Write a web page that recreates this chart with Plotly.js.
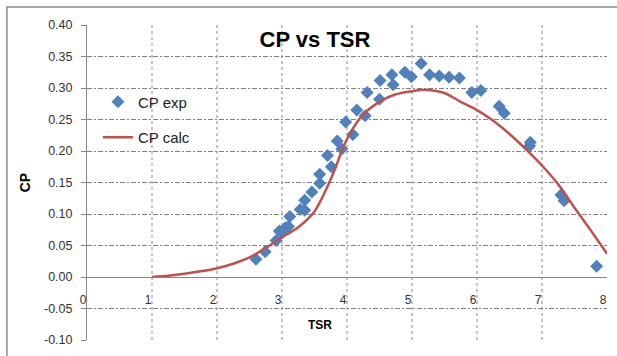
<!DOCTYPE html>
<html>
<head>
<meta charset="utf-8">
<script src="https://cdn.plot.ly/plotly-3.0.1.min.js"></script>
<style>html,body{margin:0;padding:0;background:#fff;}#chart{width:617px;height:356px;}</style>
</head>
<body>
<div id="chart"></div>
<script>
const expTSR = [2.60, 2.74, 2.91, 2.96, 3.00, 3.05, 3.10, 3.12, 3.28, 3.35, 3.35, 3.46, 3.58, 3.58, 3.76, 3.70, 3.85, 3.92, 4.09, 3.98, 4.15, 4.28, 4.31, 4.50, 4.51, 4.69, 4.71, 4.89, 4.99, 5.14, 5.27, 5.42, 5.57, 5.73, 5.92, 6.06, 6.34, 6.42, 6.81, 6.82, 7.29, 7.34, 7.84];
const expCP  = [0.028, 0.040, 0.058, 0.073, 0.070, 0.078, 0.080, 0.096, 0.107, 0.106, 0.122, 0.135, 0.149, 0.163, 0.175, 0.193, 0.216, 0.203, 0.226, 0.246, 0.265, 0.256, 0.293, 0.282, 0.312, 0.321, 0.305, 0.325, 0.318, 0.339, 0.321, 0.319, 0.317, 0.316, 0.293, 0.296, 0.271, 0.260, 0.208, 0.214, 0.130, 0.121, 0.017];

// Calculated CP curve
const calcTSR = [1, 1.25, 1.5, 1.75, 2, 2.25, 2.5, 2.75, 3, 3.25, 3.5, 3.75, 4, 4.25, 4.5, 4.75, 5, 5.25, 5.5, 5.75, 6, 6.25, 6.5, 6.75, 7, 7.25, 7.5, 7.75, 8];
const calcCP  = [0, 0.002, 0.005, 0.009, 0.014, 0.021, 0.031, 0.046, 0.063, 0.079, 0.104, 0.155, 0.219, 0.258, 0.278, 0.290, 0.295, 0.297, 0.292, 0.278, 0.265, 0.248, 0.227, 0.203, 0.177, 0.147, 0.110, 0.074, 0.037];

const xTicks = [0, 1, 2, 3, 4, 5, 6, 7, 8];
const yTicks = [-0.10, -0.05, 0.00, 0.05, 0.10, 0.15, 0.20, 0.25, 0.30, 0.35, 0.40];

const traces = [
  {
    x: expTSR, y: expCP, name: 'CP exp', type: 'scatter', mode: 'markers',
    legendgroup: 'a',
    marker: {symbol: 'diamond', size: 10, color: '#4F81BD'}
  },
  {
    x: calcTSR, y: calcCP, name: 'CP calc', type: 'scatter', mode: 'lines',
    legendgroup: 'b',
    line: {color: '#C0504D', width: 2.5, shape: 'spline', smoothing: 0.8}
  }
];

const layout = {
  width: 617, height: 356,
  margin: {l: 87, r: 10, t: 25, b: 16},
  paper_bgcolor: '#fff', plot_bgcolor: '#fff',
  font: {family: 'Liberation Sans, Arial, sans-serif', color: '#222', size: 12},
  title: {
    text: '<b>CP vs TSR</b>',
    font: {family: 'Liberation Sans, Arial, sans-serif', size: 22, color: '#000'},
    xref: 'container', x: 0.5105, xanchor: 'center',
    yref: 'container', y: 0.89, yanchor: 'middle'
  },
  showlegend: true,
  legend: {
    x: 0.021, xanchor: 'left', y: 0.808, yanchor: 'top',
    bgcolor: 'rgba(255,255,255,0)',
    font: {family: 'Liberation Sans, Arial, sans-serif', size: 15, color: '#222'},
    traceorder: 'grouped', tracegroupgap: 13
  },
  xaxis: {
    range: [0, 8],
    tickmode: 'array', tickvals: xTicks, ticktext: xTicks.map(String),
    anchor: 'free', position: 0.2,
    showline: true, linecolor: '#868686', linewidth: 1,
    ticks: '', ticklabelstandoff: 12, ticklabelshift: -4,
    tickfont: {size: 12, color: '#333'},
    showgrid: true, gridcolor: '#c4c4c4', gridwidth: 1.5, griddash: '3px,3px',
    zeroline: false
  },
  yaxis: {
    range: [-0.10, 0.40],
    tickmode: 'array', tickvals: yTicks, ticktext: yTicks.map(v => v.toFixed(2)),
    showline: true, linecolor: '#868686', linewidth: 1,
    ticks: 'outside', ticklen: 5, tickcolor: '#868686', ticklabelstandoff: 6,
    tickfont: {size: 12.5, color: '#333'},
    showgrid: true, gridcolor: '#808080', gridwidth: 1, griddash: '5px,2px,2px,2px',
    zeroline: false,
    title: {text: '<b>CP</b>', font: {size: 14, color: '#000'}, standoff: 10}
  },
  annotations: [
    {text: '<b>TSR</b>', xref: 'paper', yref: 'paper', x: 0.448, y: 0.048,
     xanchor: 'center', yanchor: 'middle', showarrow: false,
     font: {size: 12, color: '#000'}}
  ],
  shapes: [
    {type: 'rect', xref: 'paper', yref: 'paper', x0: -0.154, x1: 1.2, y0: -0.3, y1: 1.057,
     line: {color: '#8a8a8a', width: 1.5}, fillcolor: 'rgba(0,0,0,0)', layer: 'below'}
  ]
};

Plotly.newPlot('chart', traces, layout, {staticPlot: true, displayModeBar: false});
</script>
</body>
</html>
